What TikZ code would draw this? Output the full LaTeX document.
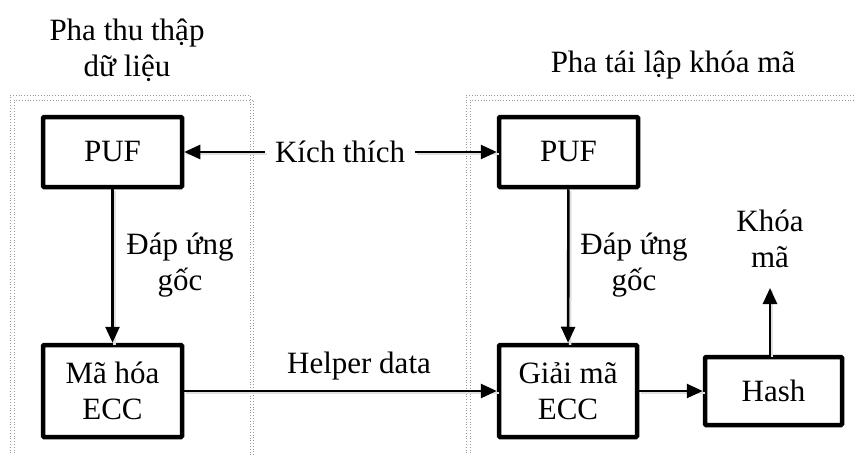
\documentclass[tikz,border=0pt]{standalone}
\usepackage{fontspec}
\setmainfont{Liberation Serif}
\usetikzlibrary{arrows.meta}
\begin{document}
\begin{tikzpicture}[x=1pt,y=-1pt,
  font=\fontsize{31}{36}\selectfont,
  blk/.style={draw,line width=4.5pt,rounded corners=1pt,minimum height=70pt,align=center,inner sep=0pt},
  conn/.style={line width=2.6pt,-{Triangle[length=16pt,width=14pt]},
    preaction={draw=black!12,line width=2.6pt,-,transform canvas={shift={(2,2)}}}},
  frame/.style={draw=gray!80,dotted,line width=0.8pt},
  lbl/.style={align=center,inner sep=2pt}]
\useasboundingbox (0,0) rectangle (855,455);
% phase frames (double dotted outlines)
\draw[frame] (10,470) -- (10,95) -- (250,95) -- (250,470);
\draw[frame] (14,470) -- (14,100) -- (253,100) -- (253,470);
\draw[frame] (466,470) -- (466,95) -- (870,95);
\draw[frame] (470,470) -- (470,100) -- (870,100);
% phase titles
\node[lbl] (t1) at (127,50) {Pha thu thập\\dữ liệu};
\node[lbl] (t2) at (673,65) {Pha tái lập khóa mã};
% blocks
\node[blk,minimum width=139pt] (puf1) at (112.5,152) {PUF};
\node[blk,minimum width=139pt] (puf2) at (568.5,152) {PUF};
\node[blk,minimum width=139pt,minimum height=92pt] (enc) at (112.5,391) {Mã hóa\\ECC};
\node[blk,minimum width=138pt,minimum height=92pt] (dec) at (568,391) {Giải mã\\ECC};
\node[blk,minimum width=137pt,minimum height=68pt] (hash) at (773.5,391) {Hash};
% challenge
\node[lbl,inner xsep=10pt] (kt) at (340,152) {Kích thích};
\draw[conn] (kt.west) -- (puf1.east);
\draw[conn] (kt.east) -- (puf2.west);
% responses
\draw[conn] (puf1) -- (enc);
\node[lbl] (r1) at (180,265) {Đáp ứng\\gốc};
\draw[conn] (puf2) -- (dec);
\node[lbl] (r2) at (634,265) {Đáp ứng\\gốc};
% helper data
\draw[conn] (enc) -- (dec);
\node[lbl,anchor=base] (hd) at (359,373) {Helper data};
\draw[conn] (dec) -- (hash);
% key output
\coordinate (keyend) at (770,288);
\draw[conn] (hash.north -| keyend) -- (keyend);
\node[lbl] (key) at (770,239) {Khóa\\mã};
\end{tikzpicture}
\end{document}
